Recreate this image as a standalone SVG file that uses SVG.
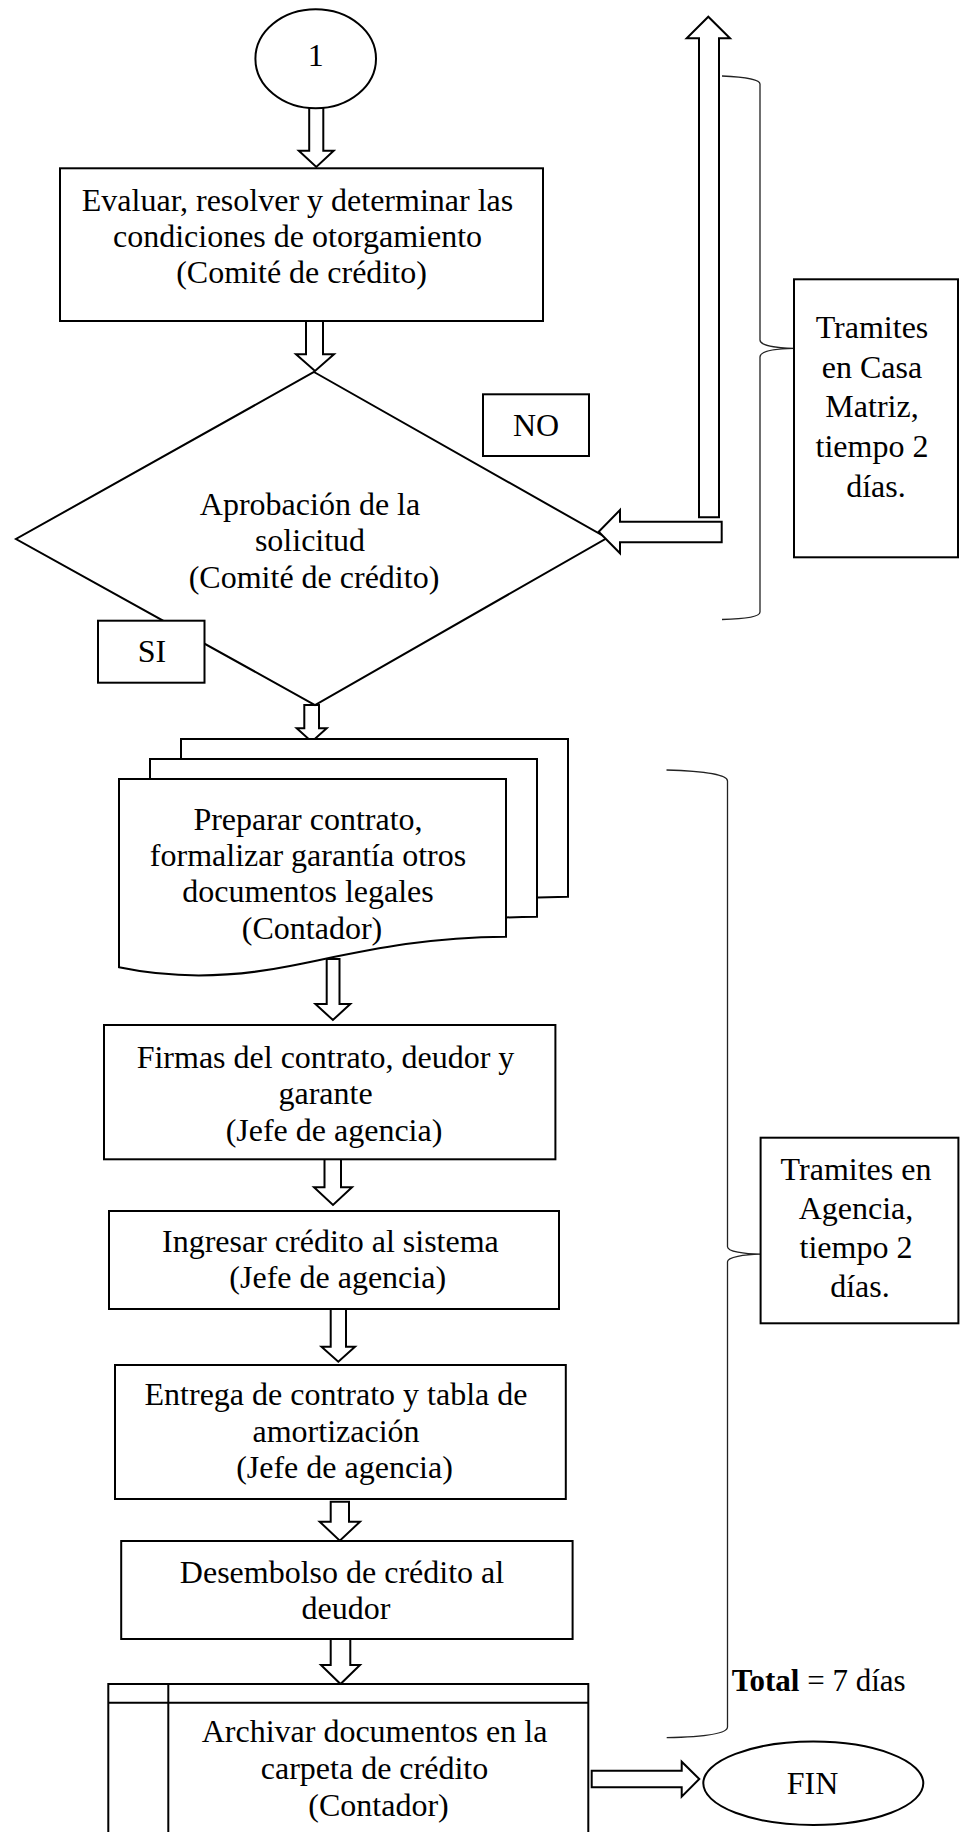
<svg xmlns="http://www.w3.org/2000/svg" xmlns:xlink="http://www.w3.org/1999/xlink" width="960" height="1832" viewBox="0 0 960 1832">
  <style>
    .shape { fill: #ffffff; stroke: #000000; stroke-width: 2; }
    .arrow { fill: #ffffff; stroke: #000000; stroke-width: 2; stroke-linejoin: miter; }
    .brace { fill: none; stroke: #222222; stroke-width: 1.3; }
    .label { font-family: "Liberation Serif", "Times New Roman", serif; font-size: 32px; fill: #000000; text-anchor: middle; }
    .note { font-family: "Liberation Serif", "Times New Roman", serif; font-size: 31px; fill: #000000; }
  </style>
  <defs>
    <!-- one page of the multi-document symbol, wavy bottom edge -->
    <path id="docPage" d="M119,779 H506 V936.7 C420,937 360,952 290,966 C230,978 170,978 119,967.3 Z"/>
  </defs>
  <rect width="960" height="1832" fill="#ffffff"/>

  <!-- connectors (block arrows) -->
  <g id="connectors">
    <polygon class="arrow" points="309.2,106 323.3,106 323.3,150.7 333.7,150.7 316.3,167 298.8,150.7 309.2,150.7"/>
    <polygon class="arrow" points="306,321 323,321 323,354.3 334,354.3 315,371 296,354.3 306,354.3"/>
    <polygon class="arrow" points="304.3,705 319,705 319,728.3 326.7,728.3 311.7,741.7 296.7,728.3 304.3,728.3"/>
    <polygon class="arrow" points="326.7,959 339.5,959 339.5,1004 350.3,1004 332.9,1020 315.4,1004 326.7,1004"/>
    <polygon class="arrow" points="324.5,1159 341,1159 341,1187.3 352,1187.3 333,1205 314,1187.3 324.5,1187.3"/>
    <polygon class="arrow" points="330.7,1309 346,1309 346,1346.7 355,1346.7 338.3,1361.7 321.5,1346.7 330.7,1346.7"/>
    <polygon class="arrow" points="330.7,1501.7 349,1501.7 349,1521.7 360,1521.7 339.8,1540.7 319.7,1521.7 330.7,1521.7"/>
    <polygon class="arrow" points="330.7,1639 350.3,1639 350.3,1665 360,1665 340.5,1684 321,1665 330.7,1665"/>
    <!-- NO branch: return arrow upwards -->
    <polygon class="arrow" points="699,517.3 719,517.3 719,38.3 730,38.3 708.3,16.7 686.7,38.3 699,38.3 699,517.3"/>
    <!-- exit to FIN -->
    <polygon class="arrow" points="591.7,1770.7 681.7,1770.7 681.7,1761.7 699.3,1779 681.7,1796.7 681.7,1787.3 591.7,1787.3"/>
  </g>

  <!-- start connector -->
  <g id="start">
    <ellipse class="shape" cx="315.7" cy="58.8" rx="60.3" ry="49.5"/>
    <text class="label" x="315.7" y="66">1</text>
  </g>

  <g id="evaluar">
    <rect class="shape" x="60" y="168.3" width="483" height="152.7"/>
    <text class="label">
      <tspan x="301.5" y="211">Evaluar, resolver y determinar las</tspan>
      <tspan x="301.5" y="247">condiciones de otorgamiento</tspan>
      <tspan x="301.5" y="283">(Comité de crédito)</tspan>
    </text>
  </g>

  <g id="aprobacion">
    <polygon class="shape" points="314,372 607,538 315,705 16,539"/>
    <text class="label">
      <tspan x="314" y="515">Aprobación de la</tspan>
      <tspan x="314" y="551">solicitud</tspan>
      <tspan x="314" y="588">(Comité de crédito)</tspan>
    </text>
  </g>

  <!-- return arrow into the decision (drawn over the diamond corner) -->
  <g id="no-return">
    <polygon class="arrow" points="721.7,521.7 721.7,542.3 620,542.3 620,553.3 598.7,531.7 620,510 620,521.7"/>
  </g>

  <g id="label-no">
    <rect class="shape" x="483" y="394.3" width="106" height="61.7"/>
    <text class="label" x="536" y="436">NO</text>
  </g>

  <g id="label-si">
    <rect class="shape" x="98" y="620.7" width="106.5" height="62"/>
    <text class="label" x="152" y="662">SI</text>
  </g>

  <g id="preparar">
    <use xlink:href="#docPage" class="shape" transform="translate(62,-40)"/>
    <use xlink:href="#docPage" class="shape" transform="translate(31,-20)"/>
    <use xlink:href="#docPage" class="shape"/>
    <text class="label">
      <tspan x="312" y="829.5">Preparar contrato,</tspan>
      <tspan x="312" y="866">formalizar garantía otros</tspan>
      <tspan x="312" y="902">documentos legales</tspan>
      <tspan x="312" y="939">(Contador)</tspan>
    </text>
  </g>

  <g id="firmas">
    <rect class="shape" x="104" y="1025" width="451.4" height="134.3"/>
    <text class="label">
      <tspan x="329.5" y="1068">Firmas del contrato, deudor y</tspan>
      <tspan x="329.5" y="1104">garante</tspan>
      <tspan x="334" y="1141">(Jefe de agencia)</tspan>
    </text>
  </g>

  <g id="ingresar">
    <rect class="shape" x="109" y="1211" width="450" height="98"/>
    <text class="label">
      <tspan x="334.4" y="1251.5">Ingresar crédito al sistema</tspan>
      <tspan x="337.7" y="1288">(Jefe de agencia)</tspan>
    </text>
  </g>

  <g id="entrega">
    <rect class="shape" x="115" y="1365" width="450.8" height="134"/>
    <text class="label">
      <tspan x="340" y="1405">Entrega de contrato y tabla de</tspan>
      <tspan x="340" y="1441.5">amortización</tspan>
      <tspan x="344.5" y="1478">(Jefe de agencia)</tspan>
    </text>
  </g>

  <g id="desembolso">
    <rect class="shape" x="121.2" y="1541" width="451.4" height="98"/>
    <text class="label">
      <tspan x="346" y="1582.5">Desembolso de crédito al</tspan>
      <tspan x="346" y="1619">deudor</tspan>
    </text>
  </g>

  <g id="archivar">
    <rect class="shape" x="108.3" y="1684" width="480" height="170"/>
    <line x1="108.3" y1="1702.7" x2="588.3" y2="1702.7" stroke="#000" stroke-width="2"/>
    <line x1="168.3" y1="1684" x2="168.3" y2="1840" stroke="#000" stroke-width="2"/>
    <text class="label">
      <tspan x="378.5" y="1742">Archivar documentos en la</tspan>
      <tspan x="378.5" y="1779">carpeta de crédito</tspan>
      <tspan x="378.5" y="1816">(Contador)</tspan>
    </text>
  </g>

  <g id="fin">
    <ellipse class="shape" cx="813.3" cy="1783.3" rx="110" ry="41.7"/>
    <text class="label" x="812.5" y="1794.3">FIN</text>
  </g>

  <!-- time annotations -->
  <g id="brace-casa-matriz">
    <path class="brace" d="M722,76 C745,77 760,79 760,84 V340 C760,345.5 776,348 794,348.3 C776,348.6 760,351 760,357 V612 C760,617 745,619 722,619.5"/>
  </g>
  <g id="tramites-casa-matriz">
    <rect class="shape" x="794" y="279.3" width="164" height="278"/>
    <text class="label">
      <tspan x="876" y="338">Tramites</tspan>
      <tspan x="876" y="377.7">en Casa</tspan>
      <tspan x="876" y="417.4">Matriz,</tspan>
      <tspan x="876" y="457.1">tiempo 2</tspan>
      <tspan x="876" y="496.8">días.</tspan>
    </text>
  </g>

  <g id="brace-agencia">
    <path class="brace" d="M666.5,770 C700,771 727.5,774 727.5,781 V1246.7 C727.5,1251.5 744,1254 760.6,1254.2 C744,1254.5 727.5,1257 727.5,1261.7 V1727 C727.5,1734 700,1737 666.7,1737.7"/>
  </g>
  <g id="tramites-agencia">
    <rect class="shape" x="760.6" y="1137.7" width="197.8" height="185.6"/>
    <text class="label">
      <tspan x="860" y="1180">Tramites en</tspan>
      <tspan x="860" y="1219">Agencia,</tspan>
      <tspan x="860" y="1258">tiempo 2</tspan>
      <tspan x="860" y="1297">días.</tspan>
    </text>
  </g>

  <g id="total">
    <text class="note" x="731.7" y="1690.7"><tspan font-weight="bold">Total</tspan> = 7 días</text>
  </g>
</svg>
